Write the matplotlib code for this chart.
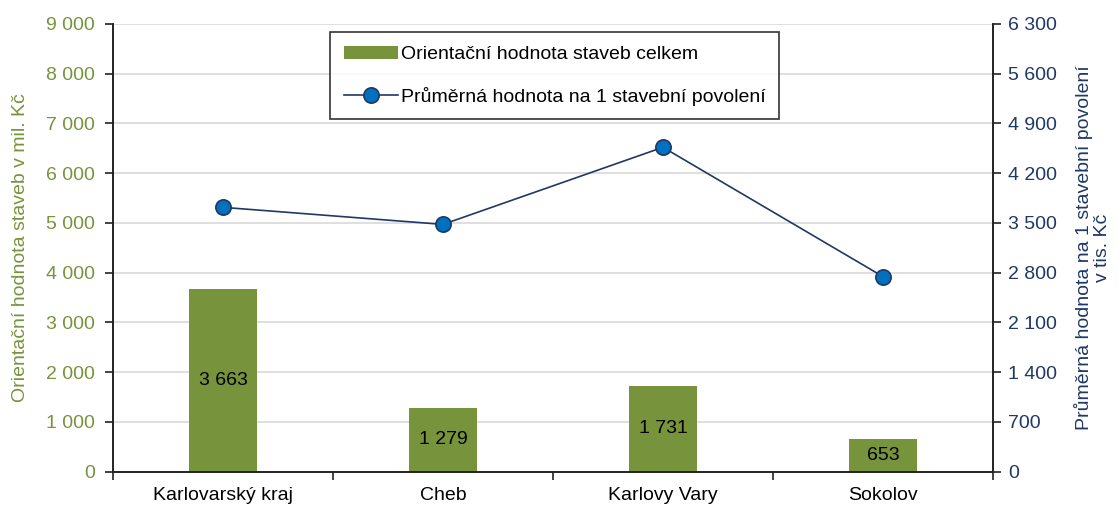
import matplotlib.pyplot as plt
import numpy as np
from matplotlib.ticker import FuncFormatter

plt.rcParams['font.family'] = ['Liberation Sans', 'DejaVu Sans']

kategorie = ["Karlovarský kraj", "Cheb", "Karlovy Vary", "Sokolov"]
hodnota_celkem = [3663, 1279, 1731, 653]
prumer_povoleni = [3720, 3480, 4565, 2745]

zelena = '#77933C'
modra = '#1F3864'

def fmt(v, pos):
    return "{:,}".format(int(v)).replace(",", " ")

fig = plt.figure(figsize=(11.19, 5.05), dpi=100)
ax = fig.add_axes([113/1119, 1-471.7/505, 880/1119, 447.7/505])
ax2 = ax.twinx()

x = np.arange(len(kategorie))
bars = ax.bar(x, hodnota_celkem, width=0.31, color=zelena, zorder=2,
              label="Orientační hodnota staveb celkem")
for xi, v in zip(x, hodnota_celkem):
    ax.text(xi, v/2, fmt(v, None), ha='center', va='center', fontsize=14, color='black', zorder=3)

line, = ax2.plot(x, prumer_povoleni, color=modra, lw=1.2, marker='o', markersize=11,
                 markerfacecolor='#0070C0', markeredgecolor=modra, markeredgewidth=1.2,
                 label="Průměrná hodnota na 1 stavební povolení")

ax.set_xlim(-0.5, 3.5)
ax.set_ylim(0, 9000)
ax.set_yticks(np.arange(0, 9001, 1000))
ax2.set_ylim(0, 6300)
ax2.set_yticks(np.arange(0, 6301, 700))
ax.yaxis.set_major_formatter(FuncFormatter(fmt))
ax2.yaxis.set_major_formatter(FuncFormatter(fmt))

ax.set_xticks(x)
ax.set_xticklabels(kategorie, fontsize=14)
ax.set_xticks(np.arange(-0.5, 4, 1), minor=True)
ax.tick_params(axis='x', which='major', length=0, pad=11)
ax.tick_params(axis='x', which='minor', length=6, width=1.2, color='#222222')

ax.tick_params(axis='y', colors='#222222', labelcolor=zelena, labelsize=14, length=6, width=1.2, pad=7)
ax2.tick_params(axis='y', colors='#222222', labelcolor=modra, labelsize=14, length=6, width=1.2, pad=5)

ax.grid(axis='y', color='#D9D9D9', lw=1.2, zorder=0)
ax.set_axisbelow(True)

for a in (ax, ax2):
    a.spines['top'].set_visible(False)
    for s in ('left', 'right', 'bottom'):
        a.spines[s].set_linewidth(1.2)
        a.spines[s].set_color('#222222')

ax.set_ylabel("Orientační hodnota staveb v mil. Kč", color=zelena, fontsize=14, labelpad=12)
ax2.set_ylabel("Průměrná hodnota na 1 stavební povolení\nv tis. Kč", color=modra,
               fontsize=14, labelpad=12, linespacing=1.05)

leg = fig.legend([bars, line], [bars.get_label(), line.get_label()],
                 loc='upper left', bbox_to_anchor=(330/1119, 1-32/505),
                 fontsize=14, frameon=True, fancybox=False, edgecolor='black',
                 borderpad=0.7, labelspacing=1.2, handlelength=2.8, handletextpad=0.15,
                 borderaxespad=0)
leg.get_frame().set_linewidth(1.2)

fig.savefig("out.png", dpi=100)
